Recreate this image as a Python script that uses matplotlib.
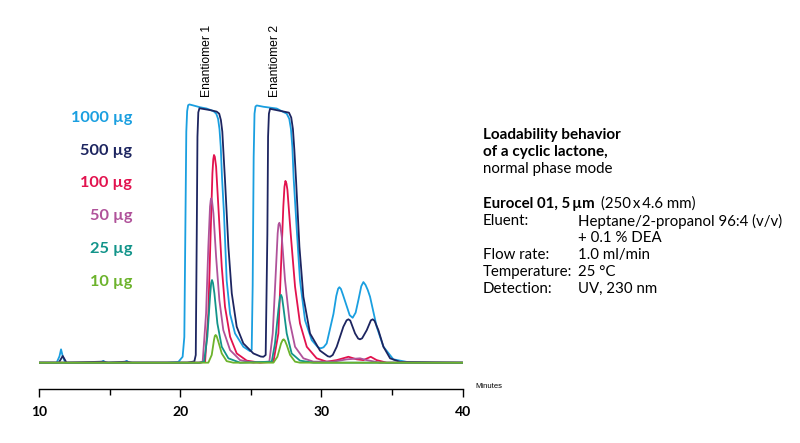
import matplotlib

matplotlib.use('Agg')
import matplotlib.pyplot as plt

# retention time (min) / relative detector signal
t_1000 = [10.0, 11.25, 11.45, 11.56, 11.68, 11.86, 13.14, 14.4, 14.56, 14.75, 16.05, 16.21, 16.4,
          19.04, 19.87, 20.17, 20.29, 20.36, 20.43, 20.49, 20.56, 20.65, 20.93, 21.40, 21.87,
          22.35, 22.55, 22.68, 22.78, 22.87, 22.96, 23.10, 23.29, 23.53, 23.88, 24.47, 24.94,
          25.06, 25.13, 25.20, 25.26, 25.33, 25.42, 25.89, 26.83, 27.54, 27.72, 27.84, 27.94,
          28.03, 28.25, 28.48, 28.84, 29.31, 29.75, 29.95, 30.15, 30.37, 30.85, 31.05, 31.18,
          31.27, 31.38, 31.52, 31.67, 32.0, 32.21, 32.42, 32.62, 32.82, 32.97, 33.12, 33.28,
          33.44, 33.91, 34.39, 35.09, 36.04, 37.93, 40.0]
s_1000 = [0, 0, 2.5, 5.2, 2.5, 0, 0, 0.2, 0.7, 0, 0.2, 0.7, 0,
          0, 0.3, 2.3, 10, 50, 90, 98, 100.3, 100.6, 100.2, 99.5, 99,
          98, 97, 95, 91, 84, 72, 58, 32, 19, 11.4, 6.2, 4.5,
          5, 30, 80, 97, 99.8, 100.2, 99.7, 99, 97, 95, 91, 84,
          72, 52, 32, 16.5, 8.8, 6.0, 5.6, 6.0, 7.5, 19, 26, 28.8,
          29.4, 28.7, 26.5, 24, 18.5, 17.5, 19.5, 24.5, 29.8, 31.4, 30.3, 28.3,
          25.7, 14, 6.2, 1.3, 0.3, 0, 0]

t_500 = [10.0, 11.4, 11.68, 11.95, 14.56, 14.9, 16.21, 16.6, 20.5, 21.0, 21.10, 21.17, 21.22,
         21.28, 21.36, 22.11, 22.58, 22.76, 22.88, 22.98, 23.07, 23.17, 23.41, 23.65, 24.0, 24.47,
         25.18, 25.7, 25.89, 26.05, 26.17, 26.22, 26.28, 26.36, 27.70, 27.86, 27.98, 28.08,
         28.20, 28.44, 28.72, 29.19, 29.90, 30.45, 30.61, 30.8, 31.08, 31.55, 31.78, 31.91,
         32.04, 32.38, 32.6, 32.73, 32.88, 33.21, 33.50, 33.63, 33.76, 34.03, 34.39, 34.86,
         35.57, 40.0]
s_500 = [0, 0, 2.6, 0, 0.4, 0, 0.4, 0, 0, 0.5, 3, 50, 88,
         97.5, 99.1, 98.4, 97.8, 97, 94.5, 90, 81, 71.2, 45.2, 27, 14, 7.5,
         3.6, 2.4, 2.3, 3, 50, 88, 97, 98.9, 97.4, 95.5, 91, 83,
         71.2, 45.2, 25.7, 11.4, 4.7, 2.5, 2.3, 3.0, 6.2, 14, 16.5, 16.9,
         16.4, 11.4, 9.4, 9.1, 9.5, 12.7, 16.5, 16.9, 16.3, 12.7, 6.2, 1.7,
         0.3, 0]

t_100 = [10.0, 21.4, 21.76, 21.99, 22.16, 22.28, 22.34, 22.39, 22.45, 22.54, 22.70, 22.94, 23.17,
         23.53, 24.0, 24.71, 25.65, 26.60, 26.95, 27.19, 27.30, 27.38, 27.45, 27.52, 27.59, 27.82,
         28.13, 28.48, 28.96, 29.66, 30.37, 31.08, 31.91, 32.50, 32.97, 33.49, 33.91, 34.62, 40.0]
s_100 = [0, 0, 0.4, 19.2, 51.7, 73.8, 79.2, 80.9, 80.2, 76.4, 60.8, 37.4, 21.8,
         10.1, 3.6, 0.8, 0, 0.4, 11.4, 45.2, 60.8, 68.5, 70.8, 69.8, 67.3, 50.4,
         29.6, 15.3, 6.2, 1.7, 0.4, 1.0, 2.3, 1.3, 1.0, 2.3, 1.0, 0, 0]

t_50 = [10.0, 21.3, 21.59, 21.83, 21.99, 22.11, 22.16, 22.20, 22.26, 22.35, 22.54, 22.77, 23.05,
        23.53, 24.24, 25.18, 26.31, 26.55, 26.74, 26.90, 26.96, 27.02, 27.09, 27.19, 27.42,
        27.73, 28.13, 28.72, 29.43, 30.85, 31.79, 32.73, 33.21, 34.15, 40.0]
s_50 = [0, 0, 0.4, 19.2, 45.2, 60.8, 63.3, 64.0, 62.6, 58.2, 41.3, 24.4, 12.7,
        4.9, 1.0, 0, 0.4, 11.4, 32.2, 50.4, 53.8, 54.5, 53.2, 49.1, 32.2,
        16.6, 6.2, 1.7, 0.4, 0.4, 1.3, 1.7, 1.0, 0, 0]

t_25 = [10.0, 21.4, 21.69, 21.92, 22.11, 22.19, 22.25, 22.32, 22.42, 22.63, 22.94, 23.41, 24.24,
        26.48, 26.71, 26.95, 27.07, 27.14, 27.21, 27.30, 27.54, 27.89, 28.48, 29.43, 40.0]
s_25 = [0, 0, 0.4, 10.1, 25.7, 31.0, 32.2, 31.0, 27.0, 15.3, 6.2, 1.7, 0,
        0.4, 7.5, 20.5, 25.7, 26.4, 25.4, 21.8, 11.4, 3.6, 0.8, 0, 0]

t_10 = [10.0, 21.99, 22.23, 22.39, 22.45, 22.51, 22.58, 22.70, 22.94, 23.29, 23.76, 26.60, 26.88,
        27.14, 27.26, 27.33, 27.41, 27.54, 27.78, 28.13, 28.48, 40.0]
s_10 = [0, 0, 3.0, 8.8, 10.4, 10.8, 10.3, 8.2, 3.6, 0.6, 0, 0, 2.3,
        7.5, 8.9, 9.1, 8.6, 6.9, 3.0, 0.4, 0, 0]

loads = ['1000 µg', '500 µg', '100 µg', '50 µg', '25 µg', '10 µg']
colors = ['#1a9fe0', '#1d2560', '#e2124e', '#b0529a', '#12948a', '#6cb32c']
series = [(t_1000, s_1000), (t_500, s_500), (t_100, s_100),
          (t_50, s_50), (t_25, s_25), (t_10, s_10)]

fig = plt.figure(figsize=(8, 4.43), dpi=100)
ax = fig.add_axes([0.04875, 0.1219, 0.5296, 0.833])

for (t, s), c in zip(series, colors):
    ax.plot(t, s, color=c, lw=1.3, solid_joinstyle='round', solid_capstyle='round')

ax.set_xlim(10, 40)
ax.set_ylim(-10.25, 133.5)
for side in ['top', 'right', 'left']:
    ax.spines[side].set_visible(False)
ax.spines['bottom'].set_linewidth(1.0)
ax.set_yticks([])
ax.set_xticks([10, 20, 30, 40])
ax.set_xticks([15, 25, 35], minor=True)
ax.tick_params(axis='x', which='major', length=6, width=1.0, pad=6, labelsize=10)
ax.tick_params(axis='x', which='minor', length=4, width=1.0)
for lab in ax.get_xticklabels():
    lab.set_fontfamily('Lato')
    lab.set_fontweight('bold')

# peak labels
ax.text(21.88, 103.5, 'Enantiomer 1', rotation=90, ha='center', va='bottom',
        fontsize=8.7, family='Liberation Sans', clip_on=False)
ax.text(26.71, 103.5, 'Enantiomer 2', rotation=90, ha='center', va='bottom',
        fontsize=8.7, family='Liberation Sans', clip_on=False)

# sample load labels
for i, (lab, c) in enumerate(zip(loads, colors)):
    fig.text(132 / 800, 1 - (117.7 + 32.9 * i) / 443, lab, color=c, ha='right', va='center',
             fontsize=11.8, family='Lato', fontweight='bold')

fig.text(475 / 800, 1 - 386 / 443, 'Minutes', fontsize=5.5, family='Liberation Sans',
         ha='left', va='center')

# method description
x0 = 483 / 800
x1 = 578 / 800
fs = 10.8
fam = 'Lato'
def ypos(py):
    return 1 - py / 443

fig.text(x0, ypos(135), 'Loadability behavior', fontsize=11, family=fam, fontweight='bold', va='center')
fig.text(x0, ypos(152), 'of a cyclic lactone,', fontsize=11, family=fam, fontweight='bold', va='center')
fig.text(x0, ypos(168.5), 'normal phase mode', fontsize=fs, family=fam, va='center')
fig.text(x0, ypos(204), 'Eurocel 01, 5\u2009µm', fontsize=fs, family=['Lato', 'DejaVu Sans'],
         fontweight='bold', va='center')
fig.text(601 / 800, ypos(204), '(250\u2009x\u20094.6 mm)', fontsize=fs, family=['Lato', 'DejaVu Sans'], va='center')
rows = [('Eluent:', 'Heptane/2-propanol 96:4 (v/v)', 221),
        ('', '+ 0.1 % DEA', 238),
        ('Flow rate:', '1.0 ml/min', 255),
        ('Temperature:', '25 °C', 272),
        ('Detection:', 'UV, 230 nm', 289)]
for k, v, py in rows:
    if k:
        fig.text(x0, ypos(py), k, fontsize=fs, family=fam, va='center')
    fig.text(x1, ypos(py), v, fontsize=fs, family=fam, va='center')

plt.savefig('out.png', dpi=100)
